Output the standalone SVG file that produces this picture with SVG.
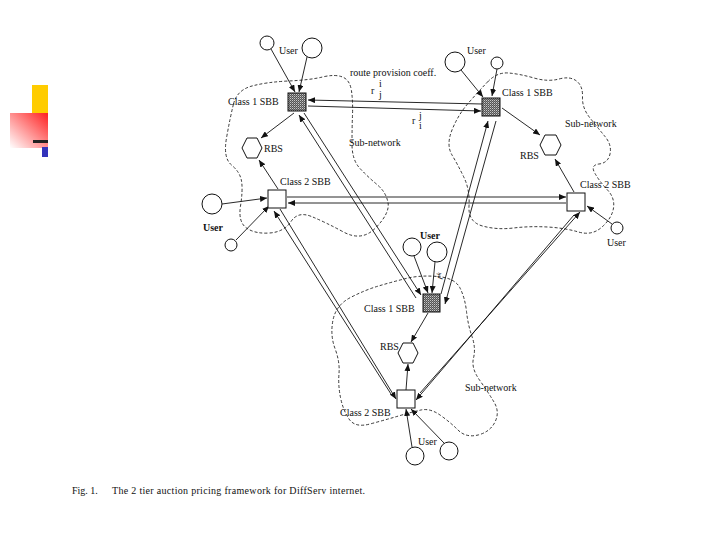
<svg xmlns="http://www.w3.org/2000/svg" width="720" height="540" viewBox="0 0 720 540">
<defs>
<marker id="ah" markerWidth="7" markerHeight="6" refX="7" refY="3" orient="auto" markerUnits="userSpaceOnUse"><path d="M0,0 L7,3 L0,6 z" fill="#111"/></marker>
<pattern id="chk" width="2" height="2" patternUnits="userSpaceOnUse"><rect width="2" height="2" fill="#555"/><rect width="1" height="1" fill="#c8c8c8"/><rect x="1" y="1" width="1" height="1" fill="#888"/></pattern>
<linearGradient id="rg" x1="1" y1="0" x2="0" y2="1"><stop offset="0" stop-color="#ff2020"/><stop offset="1" stop-color="#ffffff"/></linearGradient>
</defs>
<style>
text{font-family:"Liberation Serif","Times New Roman",serif;font-size:10px;fill:#111}
.cloud{fill:none;stroke:#222;stroke-width:0.9;stroke-dasharray:3 2}
.c{stroke:#111;stroke-width:0.9;fill:none;marker-end:url(#ah)}
.u{fill:#fff;stroke:#111;stroke-width:1}
.s1{fill:url(#chk);stroke:#111;stroke-width:1}
.s2{fill:#fff;stroke:#111;stroke-width:1}
.h{fill:#fff;stroke:#111;stroke-width:1}
</style>
<rect width="720" height="540" fill="#fff"/>
<g id="logo">
<rect x="32" y="85" width="16" height="28" fill="#ffcc00"/>
<rect x="10" y="113" width="38" height="35" fill="url(#rg)"/>
<rect x="33" y="140" width="15" height="3" fill="#222"/>
<rect x="42" y="147" width="6" height="10" fill="#3333bb"/>
</g>
<g id="clouds">
<path class="cloud" d="M 233.5,104 Q 237,90 252,86 Q 267,82 288.5,81 Q 310,80 322.5,77 Q 335,74 342.5,77 Q 350,80 351.5,91 Q 353,102 352.5,115 Q 352,128 352,144 Q 352,160 360,168.5 Q 368,177 377,184.5 Q 386,192 388,202.5 Q 390,213 376,227.5 Q 362,242 343.5,232 Q 325,222 311.5,216.5 Q 298,211 291,221.5 Q 284,232 269.5,233 Q 255,234 246.5,228 Q 238,222 240.5,206 Q 243,190 241.5,181 Q 240,172 231.5,165 Q 223,158 226.5,138 Q 230,118 233.5,104 Z"/>
<path class="cloud" d="M 487.5,82 Q 497,72 508.5,73 Q 520,74 534,78 Q 548,82 559,79 Q 570,76 576.5,81 Q 583,86 582.5,97 Q 582,108 590,118 Q 598,128 605,136.5 Q 612,145 610,154 Q 608,163 599,164 Q 590,165 595,173.5 Q 600,182 607.5,190 Q 615,198 613.5,208 Q 612,218 602,227 Q 592,236 578.5,232 Q 565,228 547.5,227 Q 530,226 513.5,228 Q 497,230 482.5,226 Q 468,222 469,206 Q 470,190 464,177.5 Q 458,165 452,155 Q 446,145 452,130 Q 458,115 468,103.5 Q 478,92 487.5,82 Z"/>
<path class="cloud" d="M 437.5,276.5 Q 455,278 460,288 Q 465,298 466.5,311.5 Q 468,325 472,336.5 Q 476,348 473.5,358 Q 471,368 479.5,380 Q 488,392 494,402 Q 500,412 495,422 Q 490,432 478,435 Q 466,438 458,430 Q 450,422 440,415 Q 430,408 421,410 Q 412,412 398.5,416 Q 385,420 370,424 Q 355,428 349,419 Q 343,410 340.5,397.5 Q 338,385 339,373.5 Q 340,362 335,348.5 Q 330,335 333,320 Q 336,305 350.5,297.5 Q 365,290 378.5,286 Q 392,282 406,278.5 Q 420,275 437.5,276.5 Z"/>
</g>
<g id="connectors">
<line class="c" x1="482" y1="104" x2="308" y2="100"/>
<line class="c" x1="308" y1="106" x2="481" y2="111"/>
<line class="c" x1="287" y1="197" x2="566" y2="197"/>
<line class="c" x1="566" y1="203" x2="288" y2="203"/>
<line class="c" x1="416" y1="298" x2="299" y2="115"/>
<line class="c" x1="304" y1="113" x2="421" y2="295"/>
<line class="c" x1="441" y1="294" x2="488" y2="121"/>
<line class="c" x1="496" y1="121" x2="445" y2="304"/>
<line class="c" x1="391" y1="394" x2="274" y2="211"/>
<line class="c" x1="280" y1="209" x2="396" y2="399"/>
<line class="c" x1="420" y1="393" x2="580" y2="212"/>
<line class="c" x1="574" y1="215" x2="416" y2="400"/>
<line class="c" x1="271" y1="49" x2="295" y2="92"/>
<line class="c" x1="307" y1="57" x2="299" y2="92"/>
<line class="c" x1="294" y1="113" x2="261" y2="138"/>
<line class="c" x1="278" y1="189" x2="259" y2="160"/>
<line class="c" x1="222" y1="204" x2="267" y2="198"/>
<line class="c" x1="236" y1="240" x2="269" y2="206"/>
<line class="c" x1="461" y1="70" x2="483" y2="97"/>
<line class="c" x1="497" y1="69" x2="492" y2="96"/>
<line class="c" x1="502" y1="108" x2="540" y2="135"/>
<line class="c" x1="574" y1="192" x2="555" y2="159"/>
<line class="c" x1="612" y1="224" x2="587" y2="206"/>
<line class="c" x1="414" y1="256" x2="428" y2="293"/>
<line class="c" x1="435" y1="262" x2="432" y2="293"/>
<line class="c" x1="428" y1="313" x2="411" y2="342"/>
<line class="c" x1="406" y1="390" x2="408" y2="364"/>
<line class="c" x1="412" y1="447" x2="406" y2="409"/>
<line class="c" x1="444" y1="443" x2="411" y2="409"/>
</g>
<g id="A1"><rect class="s1" x="288" y="93" width="18" height="18"/><text x="228" y="105">Class 1 SBB</text></g>
<g id="A1u1"><circle class="u" cx="267" cy="43" r="7"/></g>
<g id="A1u2"><circle class="u" cx="312" cy="48" r="10"/><text x="279" y="54" font-size="9">User</text></g>
<g id="A_RBS"><polygon class="h" points="242,148 247,138 257,138 262,148 257,158 247,158"/><text x="264" y="152">RBS</text></g>
<g id="A2"><rect class="s2" x="268" y="190" width="18" height="18"/><text x="280" y="185">Class 2 SBB</text></g>
<g id="A2u1"><circle class="u" cx="212" cy="204" r="10"/><text x="203" y="231" font-weight="bold" font-size="9">User</text></g>
<g id="A2u2"><circle class="u" cx="231" cy="245" r="6"/></g>
<g id="B1"><rect class="s1" x="482" y="98" width="18" height="18"/><text x="502" y="96">Class 1 SBB</text></g>
<g id="B1u1"><circle class="u" cx="455" cy="62" r="10"/><text x="467" y="54" font-size="9">User</text></g>
<g id="B1u2"><circle class="u" cx="497" cy="63" r="6"/></g>
<g id="B_RBS"><polygon class="h" points="540,145 545,135 556,135 561,145 556,155 545,155"/><text x="520" y="159">RBS</text></g>
<g id="B2"><rect class="s2" x="567" y="193" width="18" height="18"/><text x="580" y="188">Class 2 SBB</text></g>
<g id="B2u"><circle class="u" cx="617" cy="228" r="6"/><text x="607" y="246" font-size="9">User</text></g>
<g id="C1"><rect class="s1" x="423" y="294" width="17" height="18"/><text x="364" y="312">Class 1 SBB</text></g>
<g id="C1u1"><circle class="u" cx="412" cy="247" r="9"/><text x="420" y="239" font-weight="bold" font-size="9">User</text></g>
<g id="C1u2"><circle class="u" cx="437" cy="252" r="10"/></g>
<g id="C_RBS"><polygon class="h" points="398,353 403,343 413,343 418,353 413,363 403,363"/><text x="380" y="350">RBS</text></g>
<g id="C2"><rect class="s2" x="397" y="390" width="18" height="18"/><text x="340" y="416">Class 2 SBB</text></g>
<g id="C2u1"><circle class="u" cx="415" cy="456" r="9"/><text x="418" y="445" font-size="9">User</text></g>
<g id="C2u2"><circle class="u" cx="449" cy="451" r="9"/></g>
<g id="labels">
<text x="350" y="76" font-size="9">route provision coeff.</text>
<text x="371" y="94" font-size="12">r</text><text x="379" y="87" font-size="7">i</text><text x="379" y="98" font-size="8">j</text>
<text x="412" y="124" font-size="11">r</text><text x="419" y="119" font-size="8">j</text><text x="419" y="129" font-size="7">i</text>
<text x="349" y="146" font-size="9">Sub-network</text>
<text x="565" y="127" font-size="9">Sub-network</text>
<text x="465" y="391" font-size="9">Sub-network</text>
<text x="0" y="0" font-size="8" transform="translate(442,280) rotate(-70)">r<tspan font-size="6" dy="-3">k</tspan></text>
</g>
<g id="caption">
<text x="72" y="494" font-size="10.5">Fig. 1.</text>
<text x="112" y="494" font-size="10.5" textLength="253">The 2 tier auction pricing framework for DiffServ internet.</text>
</g>
</svg>
